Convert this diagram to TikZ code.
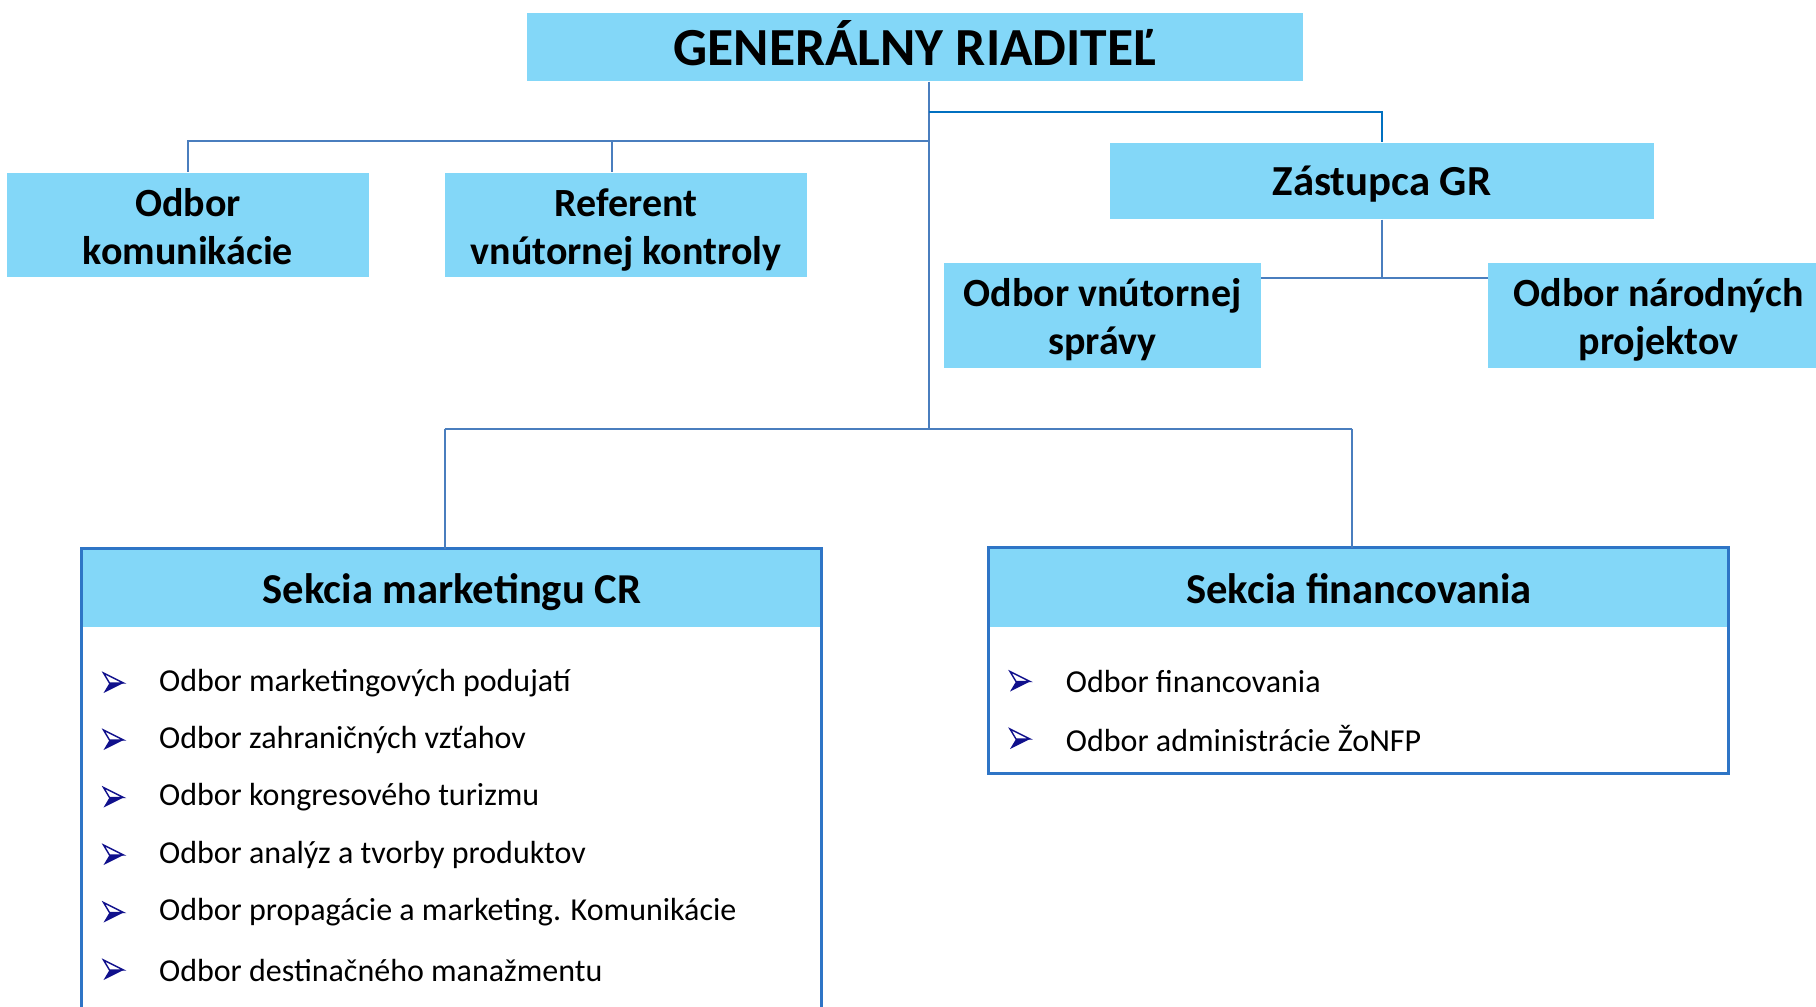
\documentclass[tikz,border=0pt]{standalone}
\usepackage{fontspec}
\setmainfont{Carlito}
\definecolor{boxblue}{RGB}{131,215,248}
\definecolor{connblue}{RGB}{74,126,190}
\definecolor{darkconn}{RGB}{0,112,192}
\definecolor{seclinec}{RGB}{46,117,198}
\definecolor{navyb}{RGB}{16,16,140}
\newcommand\orgtxt[2]{\raisebox{#1}[\height][\depth]{\begin{tabular}{@{}c@{}}#2\end{tabular}}}
\begin{document}
\begin{tikzpicture}[x=0.5pt,y=-0.5pt,
  orgbox/.style={fill=boxblue, inner sep=0pt, align=center,
    font=\fontsize{20}{24}\selectfont\bfseries},
  conn/.style={draw=connblue, line width=1pt},
  topconn/.style={draw=darkconn, line width=1.2pt},
  secframe/.style={draw=seclinec, line width=1.2pt},
  itemtext/.style={anchor=west, inner sep=0pt, font=\fontsize{16}{19}\selectfont},
  bul/.pic={
    \fill[navyb] (10,0) -- (-10,10) -- (-4,0) -- cycle;
    \draw[navyb, line width=0.7pt, line join=miter] (10,0) -- (-10,-10) -- (-4,0) -- cycle;
  }]
\useasboundingbox (0,0) rectangle (1816,1007);
\clip (0,0) rectangle (1816,1007);

% top boxes
\node[orgbox, minimum width=388pt, minimum height=34.2pt,
  font=\fontsize{26.8}{30}\selectfont\bfseries] (gr) at (915,47) {\orgtxt{-2.3pt}{GENERÁLNY RIADITEĽ}};
\node[orgbox, minimum width=181.2pt, minimum height=52.1pt] (kom) at (188,224.7) {\orgtxt{-2.9pt}{Odbor\\komunikácie}};
\node[orgbox, minimum width=181.3pt, minimum height=52.1pt] (ref) at (626,224.7) {\orgtxt{-2.9pt}{Referent\\vnútornej kontroly}};
\node[orgbox, minimum width=272.2pt, minimum height=38.2pt,
  font=\fontsize{21.4}{25}\selectfont\bfseries] (zast) at (1382,181) {\orgtxt{-2.3pt}{Zástupca GR}};
\node[orgbox, minimum width=158.5pt, minimum height=52.5pt] (vns) at (1102.5,315.5) {\orgtxt{-2.9pt}{Odbor vnútornej\\správy}};
\node[orgbox, minimum width=170.5pt, minimum height=52.5pt] (nar) at (1658.5,315.5) {\orgtxt{-2.9pt}{Odbor národných\\projektov}};

% section headers
\node[orgbox, minimum width=370pt, minimum height=38.8pt,
  font=\fontsize{21.3}{25}\selectfont\bfseries] (secm) at (452,587.8) {\orgtxt{-2.9pt}{Sekcia marketingu CR}};
\node[orgbox, minimum width=370pt, minimum height=39.3pt,
  font=\fontsize{21.3}{25}\selectfont\bfseries] (secf) at (1359,587.3) {\orgtxt{-2.9pt}{Sekcia financovania}};
\draw[secframe] (secm.north west) rectangle ++(740,480);
\draw[secframe] (secf.north west) rectangle ++(740,225.7);

% connectors
\coordinate (trunkx) at (929,0);
\coordinate (jz) at (929,112);
\coordinate (jl) at (929,141.3);
\coordinate (jb) at (929,428.5);
\coordinate (refx) at (611.5,141.3);
\coordinate (jv) at (1382,278);
\coordinate (secmx) at (444.7,428.5);
\coordinate (secfx) at (1351.6,428.5);

\draw[conn] (gr.south -| trunkx) -- (jb);
\draw[topconn] (jz) -| (zast.north);
\draw[conn] (jl) -| (kom.north);
\draw[conn] (refx) -- (ref.north -| refx);
\draw[conn] (zast.south) -- (jv);
\draw[conn] (vns.east |- jv) -- (nar.west |- jv);
\draw[conn] (secmx) -- (secfx);
\draw[conn] (secmx) -- (secm.north -| secmx);
\draw[conn] (secfx) -- (secf.north -| secfx);

% marketing items
\pic at (113.5,683) {bul};
\node[itemtext] (m1) at (158.7,683) {Odbor marketingových podujatí};
\pic at (113.5,740) {bul};
\node[itemtext] (m2) at (158.7,740) {Odbor zahraničných vzťahov};
\pic at (113.5,797.5) {bul};
\node[itemtext] (m3) at (158.7,797.5) {Odbor kongresového turizmu};
\pic at (113.5,855) {bul};
\node[itemtext] (m4) at (158.7,855) {Odbor analýz a tvorby produktov};
\pic at (113.5,912.5) {bul};
\node[itemtext] (m5) at (158.7,912.5) {Odbor propagácie a marketing. Komunikácie};
\pic at (113.5,970) {bul};
\node[itemtext] (m6) at (158.7,970) {Odbor destinačného manažmentu};

% financing items
\pic at (1020,681.5) {bul};
\node[itemtext] (f1) at (1065.5,681.5) {Odbor financovania};
\pic at (1020,739) {bul};
\node[itemtext] (f2) at (1065.5,739) {Odbor administrácie ŽoNFP};
\end{tikzpicture}
\end{document}
